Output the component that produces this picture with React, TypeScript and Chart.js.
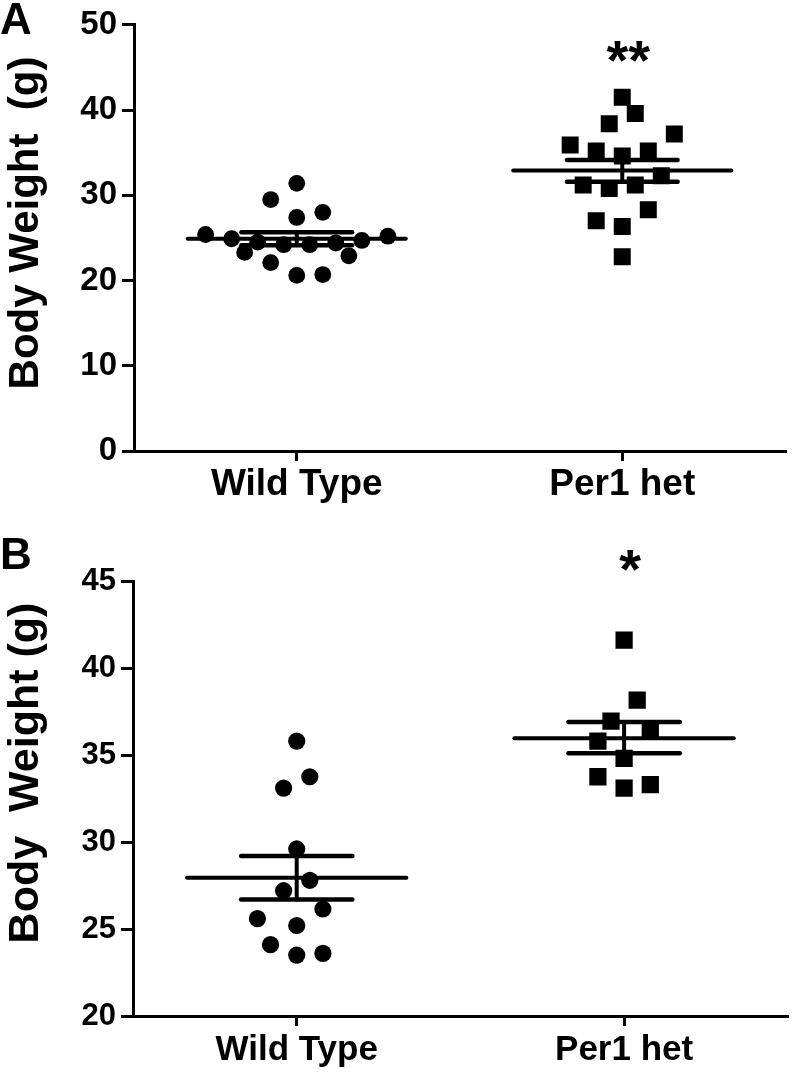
import React, { useEffect, useRef } from "react";
import { Chart, registerables } from "chart.js";

Chart.register(...registerables);

// ---------- shared ----------
const categories = ["Wild Type", "Per1 het"];
const categoryX = [1, 3];

// ---------- Panel A ----------
const aWildTypeValues = [31.4, 29.5, 27.4, 28.0, 25.4, 24.9, 24.7, 25.2, 23.3, 22.9, 22.1, 20.6, 20.7, 24.5, 24.2, 24.2, 24.4];
const aWildTypeJitter = [0, -0.16, 0, 0.16, -0.56, -0.4, 0.4, 0.56, -0.32, 0.32, -0.16, 0, 0.16, -0.24, -0.08, 0.08, 0.24];
const aPer1Values = [41.5, 39.6, 38.4, 37.2, 35.9, 35.2, 34.6, 35.2, 32.3, 31.2, 30.8, 31.2, 28.3, 27.0, 26.35, 22.8];
const aPer1Jitter = [0, 0.08, -0.08, 0.32, -0.32, -0.16, 0, 0.16, 0.24, -0.24, -0.08, 0.08, 0.16, -0.16, 0, 0];
const aMeans = [24.9, 32.9];
const aSemUpper = [25.65, 34.15];
const aSemLower = [24.15, 31.6];
const aYTicks = [0, 10, 20, 30, 40, 50];
const aSignificance = ["", "**"];
const aSignificanceY = [0, 46.6];

// ---------- Panel B ----------
const bWildTypeValues = [35.8, 33.75, 33.1, 29.6, 27.8, 27.2, 26.15, 25.6, 25.2, 24.1, 23.5, 23.6];
const bWildTypeJitter = [0, 0.08, -0.08, 0, 0.08, -0.08, 0.16, -0.24, 0, -0.16, 0, 0.16];
const bPer1Values = [41.6, 38.16, 36.95, 36.4, 35.8, 34.8, 33.75, 33.1, 33.3];
const bPer1Jitter = [0, 0.08, -0.08, 0.16, -0.16, 0, -0.16, 0, 0.16];
const bMeans = [27.95, 35.96];
const bSemUpper = [29.2, 36.9];
const bSemLower = [26.7, 35.1];
const bYTicks = [20, 25, 30, 35, 40, 45];
const bSignificance = ["", "*"];
const bSignificanceY = [0, 46.1];

const FONT = "'Liberation Sans', Arial, Helvetica, sans-serif";

type PanelCfg = {
  width: number;
  height: number;
  padTop: number;
  padRight: number;
  yAxisWidth: number;
  xAxisHeight: number;
  yTicks: number[];
  tickFont: number;
  catFont: number;
  catPad: number;
  wt: number[];
  wtJ: number[];
  per: number[];
  perJ: number[];
  means: number[];
  semU: number[];
  semL: number[];
  sig: string[];
  sigY: number[];
  sigFont: number;
  sigOffset: number;
  circleR: number;
  squareR: number;
  letter: string;
  letterY: number;
  yTitle: string;
  yTitleX: number;
  yTitleY: number;
  yTitleFont: number;
};

const segment = (x0: number, x1: number, y0: number, y1: number, w: number) => ({
  type: "scatter" as const,
  data: [
    { x: x0, y: y0 },
    { x: x1, y: y1 },
  ],
  showLine: true,
  borderColor: "#000",
  backgroundColor: "#000",
  borderWidth: w,
  borderCapStyle: "round" as const,
  pointRadius: 0,
  pointHoverRadius: 0,
  order: 0,
  clip: false as const,
});

function buildConfig(p: PanelCfg): any {
  const datasets: any[] = [];
  const groups = [
    { vals: p.wt, jit: p.wtJ, style: "circle", r: p.circleR },
    { vals: p.per, jit: p.perJ, style: "rect", r: p.squareR },
  ];
  groups.forEach((g, i) => {
    datasets.push({
      type: "scatter",
      label: categories[i],
      data: g.vals.map((v, k) => ({ x: categoryX[i] + g.jit[k], y: v })),
      pointStyle: g.style,
      pointRadius: g.r,
      pointHoverRadius: g.r,
      pointBackgroundColor: "#000",
      pointBorderColor: "#000",
      pointBorderWidth: 0,
      showLine: false,
      order: 1,
    });
  });
  const meanHalf = 0.67;
  const semHalf = 0.34;
  categoryX.forEach((cx, i) => {
    datasets.push(segment(cx - meanHalf, cx + meanHalf, p.means[i], p.means[i], 4));
    datasets.push(segment(cx - semHalf, cx + semHalf, p.semU[i], p.semU[i], 4.5));
    datasets.push(segment(cx - semHalf, cx + semHalf, p.semL[i], p.semL[i], 4.5));
    datasets.push(segment(cx, cx, p.semL[i], p.semU[i], 4));
  });

  const extras = {
    id: "extras",
    afterDraw(chart: any) {
      const ctx = chart.ctx;
      const xs = chart.scales.x;
      const ys = chart.scales.y;
      ctx.save();
      ctx.fillStyle = "#000";
      // significance marks
      ctx.font = `bold ${p.sigFont}px ${FONT}`;
      ctx.textAlign = "center";
      ctx.textBaseline = "middle";
      p.sig.forEach((s, i) => {
        if (!s) return;
        ctx.fillText(s, xs.getPixelForValue(categoryX[i]) + 6, ys.getPixelForValue(p.sigY[i]) + p.sigOffset);
      });
      // panel letter
      ctx.font = `bold 44px ${FONT}`;
      ctx.textAlign = "left";
      ctx.textBaseline = "top";
      ctx.fillText(p.letter, 0, p.letterY);
      // y title
      ctx.font = `bold ${p.yTitleFont}px ${FONT}`;
      ctx.translate(p.yTitleX, p.yTitleY);
      ctx.rotate(-Math.PI / 2);
      ctx.textAlign = "center";
      ctx.textBaseline = "alphabetic";
      ctx.fillText(p.yTitle, 0, 0);
      ctx.restore();
    },
  };

  return {
    type: "scatter",
    data: { datasets },
    plugins: [extras],
    options: {
      animation: false,
      responsive: false,
      maintainAspectRatio: false,
      devicePixelRatio: 1,
      layout: { padding: { top: p.padTop, right: p.padRight, left: 0, bottom: 0 } },
      plugins: {
        legend: { display: false },
        tooltip: { enabled: false },
        title: { display: false },
      },
      events: [],
      scales: {
        x: {
          type: "linear",
          min: 0,
          max: 4,
          afterBuildTicks: (scale: any) => {
            scale.ticks = categoryX.map((v) => ({ value: v }));
          },
          afterFit: (scale: any) => {
            scale.height = p.xAxisHeight;
          },
          ticks: {
            autoSkip: false,
            maxRotation: 0,
            padding: p.catPad,
            color: "#000",
            font: { family: FONT, size: p.catFont, weight: "bold" },
            callback: (v: number) => categories[categoryX.indexOf(v)] ?? "",
          },
          grid: {
            drawOnChartArea: false,
            drawTicks: true,
            tickLength: 10,
            tickColor: "#000",
            lineWidth: 3,
          },
          border: { display: true, color: "#000", width: 3 },
        },
        y: {
          type: "linear",
          min: p.yTicks[0],
          max: p.yTicks[p.yTicks.length - 1],
          afterBuildTicks: (scale: any) => {
            scale.ticks = p.yTicks.map((v) => ({ value: v }));
          },
          afterFit: (scale: any) => {
            scale.width = p.yAxisWidth;
          },
          ticks: {
            autoSkip: false,
            padding: 5,
            color: "#000",
            font: { family: FONT, size: p.tickFont, weight: "bold" },
          },
          grid: {
            drawOnChartArea: false,
            drawTicks: true,
            tickLength: 12,
            tickColor: "#000",
            lineWidth: 3,
          },
          border: { display: true, color: "#000", width: 3 },
        },
      },
    },
  };
}

const panelA: PanelCfg = {
  width: 800,
  height: 530,
  padTop: 19,
  padRight: 15,
  yAxisWidth: 134,
  xAxisHeight: 79,
  yTicks: aYTicks,
  tickFont: 33,
  catFont: 37,
  catPad: 2,
  wt: aWildTypeValues,
  wtJ: aWildTypeJitter,
  per: aPer1Values,
  perJ: aPer1Jitter,
  means: aMeans,
  semU: aSemUpper,
  semL: aSemLower,
  sig: aSignificance,
  sigY: aSignificanceY,
  sigFont: 56,
  sigOffset: 10,
  circleR: 8.4,
  squareR: 12,
  letter: "A",
  letterY: 0,
  yTitle: "Body Weight  (g)",
  yTitleX: 38,
  yTitleY: 223,
  yTitleFont: 42,
};

const panelB: PanelCfg = {
  width: 800,
  height: 546,
  padTop: 51,
  padRight: 5,
  yAxisWidth: 133,
  xAxisHeight: 60,
  yTicks: bYTicks,
  tickFont: 31,
  catFont: 35,
  catPad: 3,
  wt: bWildTypeValues,
  wtJ: bWildTypeJitter,
  per: bPer1Values,
  perJ: bPer1Jitter,
  means: bMeans,
  semU: bSemUpper,
  semL: bSemLower,
  sig: bSignificance,
  sigY: bSignificanceY,
  sigFont: 56,
  sigOffset: 11,
  circleR: 8.6,
  squareR: 12.2,
  letter: "B",
  letterY: 5,
  yTitle: "Body  Weight (g)",
  yTitleX: 38,
  yTitleY: 243,
  yTitleFont: 43,
};

function Panel({ cfg, top }: { cfg: PanelCfg; top: number }) {
  const ref = useRef<HTMLCanvasElement | null>(null);
  useEffect(() => {
    if (!ref.current) return;
    const chart = new Chart(ref.current, buildConfig(cfg));
    return () => chart.destroy();
  }, [cfg]);
  return (
    <canvas
      ref={ref}
      width={cfg.width}
      height={cfg.height}
      style={{ position: "absolute", left: 0, top, width: cfg.width, height: cfg.height, display: "block" }}
    />
  );
}

export default function App() {
  return (
    <div style={{ position: "absolute", left: 0, top: 0, width: 800, height: 1076, background: "#fff", overflow: "hidden" }}>
      <Panel cfg={panelA} top={0} />
      <Panel cfg={panelB} top={530} />
    </div>
  );
}
